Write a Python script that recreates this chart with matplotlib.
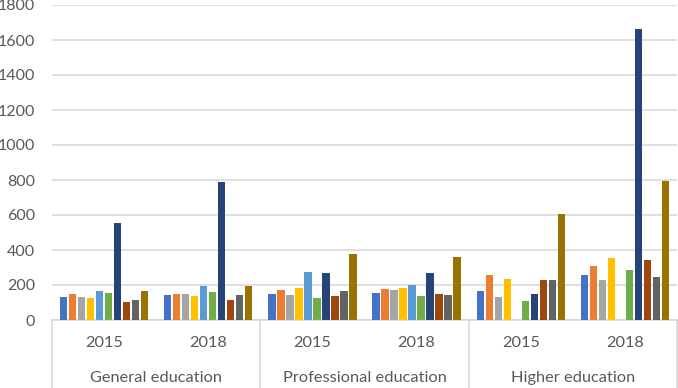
import matplotlib
matplotlib.use("Agg")
import matplotlib.pyplot as plt
import matplotlib.transforms as mtransforms
import numpy as np

categories = ["General education", "Professional education", "Higher education"]
years = ["2015", "2018"]
series_colors = ["#4472C4", "#ED7D31", "#A5A5A5", "#FFC000", "#5B9BD5",
                 "#70AD47", "#264478", "#9E480E", "#636363", "#997300"]

# values per series (10 series) for the 6 groups:
# Gen 2015, Gen 2018, Prof 2015, Prof 2018, High 2015, High 2018
s1 = [133, 142, 148, 156, 163, 260]
s2 = [148, 148, 169, 180, 260, 308]
s3 = [131, 148, 142, 169, 133, 226]
s4 = [125, 137, 184, 184, 232, 355]
s5 = [163, 196, 277, 201, 0, 0]
s6 = [154, 158, 127, 137, 108, 283]
s7 = [554, 790, 266, 266, 148, 1665]
s8 = [103, 114, 137, 148, 226, 342]
s9 = [114, 142, 163, 142, 226, 243]
s10 = [163, 192, 378, 359, 606, 795]
series = [s1, s2, s3, s4, s5, s6, s7, s8, s9, s10]
yticks = [0, 200, 400, 600, 800, 1000, 1200, 1400, 1600, 1800]

font = ["Lato", "DejaVu Sans"]
plt.rcParams["font.family"] = font

W, H = 678, 388
fig = plt.figure(figsize=(W / 100, H / 100), dpi=100)
ax = fig.add_axes([52 / W, (H - 320) / H, 625 / W, 315 / H])

n_groups = 6
x = np.arange(n_groups)
slot = 0.0865
bw = 0.07
for i, (vals, c) in enumerate(zip(series, series_colors)):
    off = (i - 4.5) * slot
    ax.bar(x + off, vals, width=bw, color=c, zorder=3)

ax.set_xlim(-0.5, 5.5)
ax.set_ylim(0, 1800)
ax.set_yticks(yticks)
ax.set_yticklabels([str(v) for v in yticks], color="#595959", fontsize=11.5)
ax.tick_params(axis="y", length=0, pad=12)
ax.set_xticks([])
ax.grid(axis="y", color="#D9D9D9", linewidth=1.2, zorder=0)
for sp in ["top", "right", "left"]:
    ax.spines[sp].set_visible(False)
ax.spines["bottom"].set_color("#D9D9D9")
ax.spines["bottom"].set_linewidth(1.2)

trans = mtransforms.blended_transform_factory(ax.transData, ax.transAxes)
# axes height in px = 315
yr_y = -(343 - 320) / 315
cat_y = -(378 - 320) / 315
for g in range(n_groups):
    ax.text(g, yr_y, years[g % 2], transform=trans, ha="center", va="center",
            fontsize=11.8, color="#595959")
for c in range(3):
    ax.text(2 * c + 0.5, cat_y, categories[c], transform=trans, ha="center",
            va="center", fontsize=11.8, color="#595959")
for xs in [-0.5, 1.5, 3.5, 5.5]:
    ax.plot([xs, xs], [0, -68 / 315], transform=trans, color="#D9D9D9",
            linewidth=1.2, clip_on=False)

fig.savefig("out.png", dpi=100)
